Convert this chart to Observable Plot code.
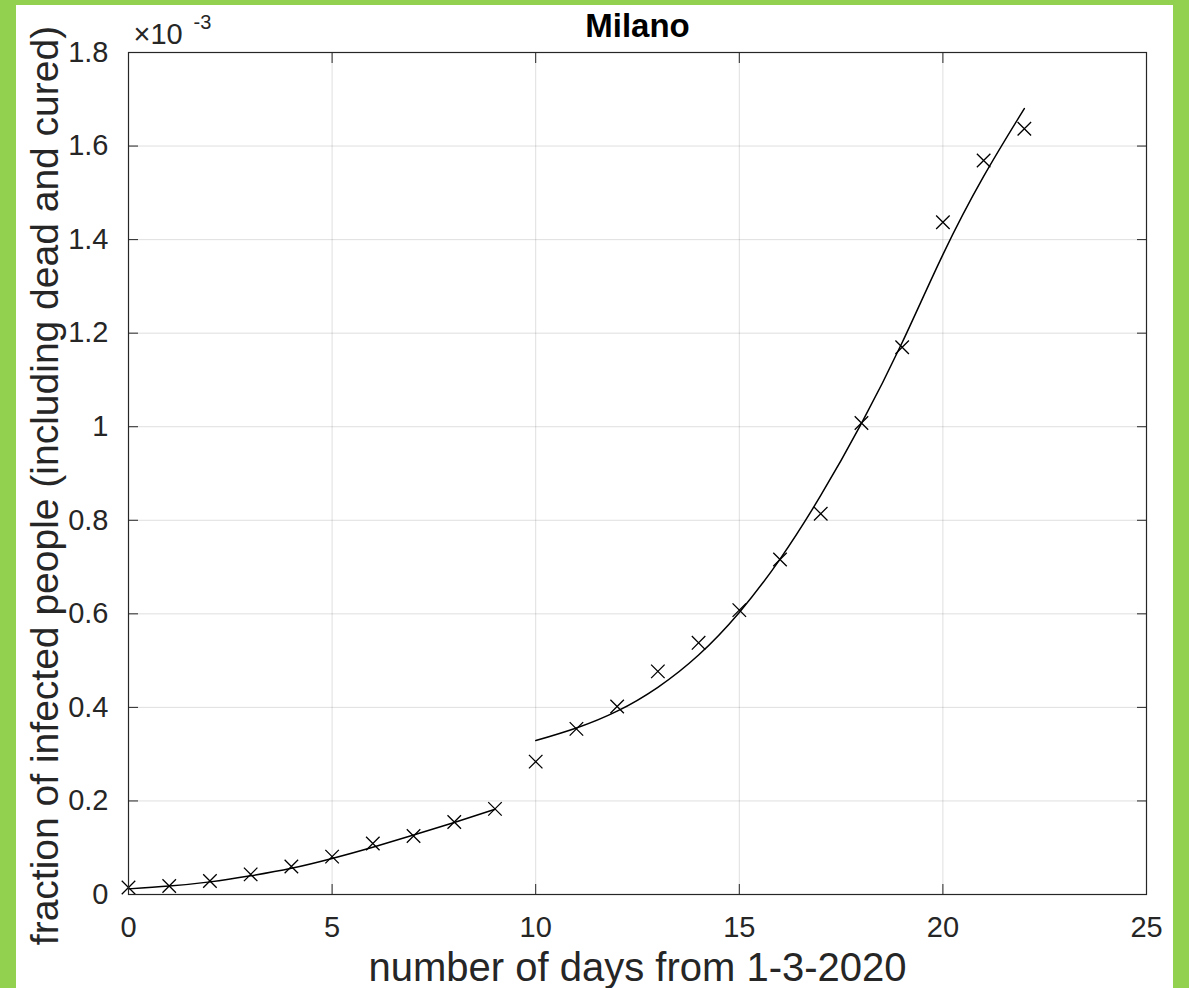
<!DOCTYPE html>
<html>
<head>
<meta charset="utf-8">
<script src="https://cdn.jsdelivr.net/npm/d3@7"></script>
<script src="https://cdn.jsdelivr.net/npm/@observablehq/plot@0.6"></script>
<style>
html, body { margin: 0; padding: 0; background: #92d050; width: 1189px; height: 988px; overflow: hidden; }
#panel { position: absolute; left: 16px; top: 5px; width: 1157px; height: 983px; background: #ffffff; }
#panel svg { display: block; overflow: visible; }
</style>
</head>
<body>
<div id="panel"></div>
<script>
// Observed data (fraction of infected people, in units of 1e-3)
const days = [0,1,2,3,4,5,6,7,8,9,10,11,12,13,14,15,16,17,18,19,20,21,22];
const observed = [0.015,0.018,0.029,0.043,0.060,0.081,0.109,0.125,0.155,0.183,0.284,0.354,0.402,0.477,0.538,0.608,0.716,0.814,1.008,1.170,1.437,1.569,1.637];

// Fitted curve, first phase (days 0-9)
const fitDays1 = [0,1,2,3,4,5,6,7,8,9];
const fitValues1 = [0.012,0.018,0.027,0.040,0.056,0.077,0.101,0.127,0.154,0.182];

// Fitted curve, second phase (days 10-22)
const fitDays2 = [10,11,12,13,14,15,16,17,18,19,20,21,22];
const fitValues2 = [0.329,0.356,0.392,0.443,0.512,0.603,0.717,0.853,1.007,1.180,1.368,1.535,1.680];

// Ticks
const xTicks = [0,5,10,15,20,25];
const yTicks = [0,0.2,0.4,0.6,0.8,1.0,1.2,1.4,1.6,1.8];

const titleText = "Milano";
const xLabel = "number of days from 1-3-2020";
const yLabel = "fraction of infected people (including dead and cured)";

const obsData = days.map((d, i) => ({day: d, value: observed[i]}));
const fit1 = fitDays1.map((d, i) => ({day: d, value: fitValues1[i]}));
const fit2 = fitDays2.map((d, i) => ({day: d, value: fitValues2[i]}));

const ink = "#262626";
const font = "'Liberation Sans', Arial, Helvetica, sans-serif";
const yFmt = d => String(+d.toFixed(1));

const chart = Plot.plot({
  width: 1157,
  height: 983,
  marginLeft: 112,
  marginRight: 27,
  marginTop: 47,
  marginBottom: 94,
  style: {fontFamily: font, background: "#ffffff", color: ink, overflow: "visible"},
  x: {domain: [0, 25], label: null},
  y: {domain: [0, 1.8], label: null},
  marks: [
    Plot.gridX(xTicks, {stroke: ink, strokeOpacity: 0.15, strokeWidth: 1}),
    Plot.gridY(yTicks, {stroke: ink, strokeOpacity: 0.15, strokeWidth: 1}),
    Plot.line(fit1, {x: "day", y: "value", stroke: "#000", strokeWidth: 1.5, curve: "natural"}),
    Plot.line(fit2, {x: "day", y: "value", stroke: "#000", strokeWidth: 1.5, curve: "natural"}),
    Plot.dot(obsData, {x: "day", y: "value", symbol: "times", r: 6.2, stroke: "#000", strokeWidth: 1.3}),
    Plot.frame({stroke: ink, strokeWidth: 1.2}),
    // inward ticks on all four sides
    Plot.axisX(xTicks, {anchor: "bottom", tickSize: -10, text: null, label: null, stroke: ink}),
    Plot.axisX(xTicks, {anchor: "top", tickSize: -10, text: null, label: null, stroke: ink}),
    Plot.axisY(yTicks, {anchor: "left", tickSize: -10, text: null, label: null, stroke: ink}),
    Plot.axisY(yTicks, {anchor: "right", tickSize: -10, text: null, label: null, stroke: ink}),
    // tick labels
    Plot.axisX(xTicks, {anchor: "bottom", tickSize: 0, tickPadding: 22, fontSize: 29, label: null, fill: ink, tickFormat: d => String(d)}),
    Plot.axisY(yTicks, {anchor: "left", tickSize: 0, tickPadding: 20, fontSize: 29, label: null, fill: ink, tickFormat: yFmt}),
    // title
    Plot.text([titleText], {frameAnchor: "top", text: d => d, textAnchor: "middle", lineAnchor: "bottom", dy: -16, fontSize: 33, fontWeight: "bold", fill: "#000"}),
    // x label
    Plot.text([xLabel], {frameAnchor: "bottom", text: d => d, textAnchor: "middle", lineAnchor: "bottom", dy: 86, fontSize: 40, fill: ink}),
    // y label
    Plot.text([yLabel], {frameAnchor: "left", text: d => d, rotate: -90, textAnchor: "middle", lineAnchor: "bottom", dx: -71, dy: 12, fontSize: 39, fill: ink}),
    // exponent multiplier
    Plot.text(["\u00d710"], {frameAnchor: "top-left", text: d => d, textAnchor: "start", lineAnchor: "bottom", dx: 5, dy: -9, fontSize: 29, fill: ink}),
    Plot.text(["-3"], {frameAnchor: "top-left", text: d => d, textAnchor: "start", lineAnchor: "bottom", dx: 65, dy: -24, fontSize: 20, fill: ink})
  ]
});

document.getElementById("panel").appendChild(chart);
</script>
</body>
</html>
